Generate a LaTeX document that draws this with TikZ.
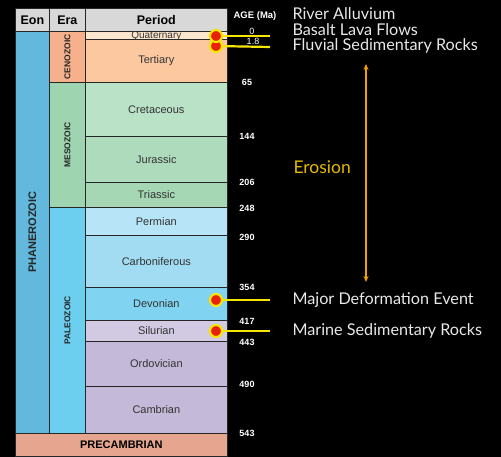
\documentclass[tikz,border=0pt]{standalone}
\usepackage{fontspec}
\setmainfont{Liberation Sans}
\newfontfamily\gill{Lato}
\usetikzlibrary{
    positioning,
    arrows.meta
}
\definecolor{cabecera}{HTML}{D8D8D8}
\definecolor{fanero}{HTML}{62B8DD}
\definecolor{ceno}{HTML}{F6B08C}
\definecolor{cuat}{HTML}{FDE6CE}
\definecolor{terc}{HTML}{FBC8A0}
\definecolor{meso}{HTML}{9FD4B0}
\definecolor{cret}{HTML}{B9E2C7}
\definecolor{jura}{HTML}{AEDBBC}
\definecolor{tria}{HTML}{A5D7B4}
\definecolor{paleo}{HTML}{6CCFF0}
\definecolor{perm}{HTML}{B8E4F7}
\definecolor{carb}{HTML}{A2DCF3}
\definecolor{devo}{HTML}{80D4F2}
\definecolor{silu}{HTML}{D2C9E3}
\definecolor{ordo}{HTML}{C5B9D9}
\definecolor{precam}{HTML}{E6A58E}
\definecolor{rojo}{HTML}{E8200C}
\definecolor{amarillo}{HTML}{F4E600}
\definecolor{naranja}{HTML}{F2A000}
\definecolor{oro}{HTML}{E6B800}
\definecolor{gris}{HTML}{E8E8E8}
\tikzset{
    >={Stealth[length=6pt,width=5pt]},
    celda/.style={
        draw=black!85,
        line width=0.7pt,
        anchor=north west,
        inner sep=0pt,
        text=black!80,
        font=\fontsize{11}{12}\selectfont
    },
    titulo/.style={celda, fill=cabecera, text=black, font=\bfseries\fontsize{12.5}{13}\selectfont},
    rotulo/.style={rotate=90, text=black!85, font=\bfseries\fontsize{8.5}{10}\selectfont},
    edad/.style={text=white, font=\bfseries\fontsize{9}{10}\selectfont},
    punto/.style={
        circle,
        fill=rojo,
        draw=amarillo,
        line width=2.2pt,
        minimum size=12pt,
        inner sep=0pt
    },
    linea/.style={amarillo, line width=2.2pt},
    nota/.style={anchor=west, text=gris, font=\gill\fontsize{16.2}{18}\selectfont}
}
\begin{document}
\begin{tikzpicture}[x=1pt, y=-1pt]

    % Fondo
    \fill[black] (0,0) rectangle (501,457);
    \useasboundingbox (0,0) rectangle (501,457);

    % Encabezado
    \node[titulo, minimum width=34pt, minimum height=23pt]  (heon) at (15,8) {Eon};
    \node[titulo, minimum width=36pt, minimum height=23pt]  (hera) at (49,8) {Era};
    \node[titulo, minimum width=142pt, minimum height=23pt] (hper) at (85,8) {Period};

    % Eones y eras
    \node[celda, fill=fanero, minimum width=34pt, minimum height=402pt] (fan) at (15,31) {};
    \node[celda, fill=ceno,   minimum width=36pt, minimum height=51pt]  (cen) at (49,31) {};
    \node[celda, fill=meso,   minimum width=36pt, minimum height=125pt] (mes) at (49,82) {};
    \node[celda, fill=paleo,  minimum width=36pt, minimum height=226pt] (pal) at (49,207) {};
    \node[rotulo, font=\bfseries\fontsize{11}{12}\selectfont] (tfan) at (fan.center) {PHANEROZOIC};
    \node[rotulo] (tcen) at (cen.center) {CENOZOIC};
    \node[rotulo] (tmes) at (mes.center) {MESOZOIC};
    \node[rotulo] (tpal) at (pal.center) {PALEOZOIC};

    % Periodos
    \node[celda, fill=cuat, minimum width=142pt, minimum height=8pt,
          font=\fontsize{10}{10}\selectfont]                    (qua) at (85,31)  {Quaternary};
    \node[celda, fill=terc, minimum width=142pt, minimum height=43pt] (ter) at (85,39)  {Tertiary};
    \node[celda, fill=cret, minimum width=142pt, minimum height=54pt] (cre) at (85,82)  {Cretaceous};
    \node[celda, fill=jura, minimum width=142pt, minimum height=46pt] (jur) at (85,136) {Jurassic};
    \node[celda, fill=tria, minimum width=142pt, minimum height=25pt] (tri) at (85,182) {Triassic};
    \node[celda, fill=perm, minimum width=142pt, minimum height=28pt] (per) at (85,207) {Permian};
    \node[celda, fill=carb, minimum width=142pt, minimum height=52pt] (car) at (85,235) {Carboniferous};
    \node[celda, fill=devo, minimum width=142pt, minimum height=33pt] (dev) at (85,287) {Devonian};
    \node[celda, fill=silu, minimum width=142pt, minimum height=21pt] (sil) at (85,320) {Silurian};
    \node[celda, fill=ordo, minimum width=142pt, minimum height=45pt] (ord) at (85,341) {Ordovician};
    \node[celda, fill=ordo, minimum width=142pt, minimum height=47pt] (cam) at (85,386) {Cambrian};
    \node[celda, fill=precam, minimum width=212pt, minimum height=23pt, text=black,
          font=\bfseries\fontsize{11}{12}\selectfont]           (pre) at (15,433) {PRECAMBRIAN};

    % Edades
    \node[edad, font=\bfseries\fontsize{9.5}{10}\selectfont] (age) at (255,16) {AGE (Ma)};
    \node[edad, font=\fontsize{9}{10}\selectfont] (a0)  at (252,31)  {0};
    \node[edad, font=\fontsize{9}{10}\selectfont] (a1)  at (253,41)  {1.8};
    \node[edad] (a65)  at (247,82)  {65};
    \node[edad] (a144) at (247,136) {144};
    \node[edad] (a206) at (247,182) {206};
    \node[edad] (a248) at (247,208) {248};
    \node[edad] (a290) at (247,237) {290};
    \node[edad] (a354) at (247,287) {354};
    \node[edad] (a417) at (247,321) {417};
    \node[edad] (a443) at (247,342) {443};
    \node[edad] (a490) at (247,384) {490};
    \node[edad] (a543) at (247,433) {543};

    % Marcas
    \coordinate (f1) at (270,36);
    \coordinate (f2) at (270,47);
    \coordinate (f3) at (270,300);
    \coordinate (f4) at (270,331);
    \node[punto] (p2) at (216,46)  {};
    \node[punto] (p1) at (216,36)  {};
    \node[punto] (p3) at (216,300) {};
    \node[punto] (p4) at (216,331) {};
    \draw[linea] (p1) -- (f1);
    \draw[linea] (p2) -- (f2);
    \draw[linea] (p3) -- (f3);
    \draw[linea] (p4) -- (f4);

    % Notas
    \node[nota] (n1) at (289,14)  {River Alluvium};
    \node[nota] (n2) at (289,30)  {Basalt Lava Flows};
    \node[nota] (n3) at (289,46)  {Fluvial Sedimentary Rocks};
    \node[nota] (n4) at (289,300) {Major Deformation Event};
    \node[nota] (n5) at (289,331) {Marine Sedimentary Rocks};

    % Erosion
    \coordinate (ero1) at (366,64);
    \coordinate (ero2) at (366,282);
    \draw[<->, naranja, line width=1.3pt] (ero1) -- (ero2);
    \node[nota, text=oro, font=\gill\fontsize{17.5}{20}\selectfont] (ero) at (290,167) {Erosion};

\end{tikzpicture}
\end{document}
